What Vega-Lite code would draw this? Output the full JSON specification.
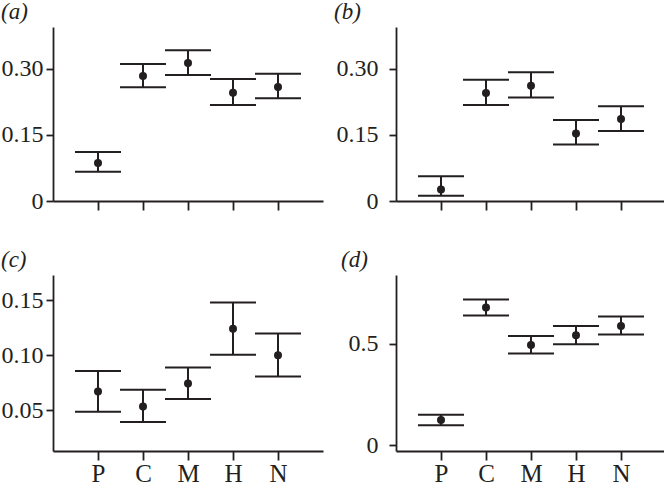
{
  "$schema": "https://vega.github.io/schema/vega-lite/v6.json",
  "padding": {"left": 0, "top": 1, "right": 0, "bottom": 0},
  "background": "white",
  "columns": 2,
  "align": "each",
  "spacing": {"row": 36, "column": 11},
  "datasets": {
    "a": [
      {"g": "P", "m": 0.086, "lo": 0.0665, "hi": 0.111},
      {"g": "C", "m": 0.284, "lo": 0.258, "hi": 0.311},
      {"g": "M", "m": 0.313, "lo": 0.286, "hi": 0.342},
      {"g": "H", "m": 0.246, "lo": 0.218, "hi": 0.277},
      {"g": "N", "m": 0.259, "lo": 0.233, "hi": 0.289}
    ],
    "b": [
      {"g": "P", "m": 0.026, "lo": 0.012, "hi": 0.056},
      {"g": "C", "m": 0.245, "lo": 0.218, "hi": 0.275},
      {"g": "M", "m": 0.2615, "lo": 0.235, "hi": 0.2925},
      {"g": "H", "m": 0.153, "lo": 0.128, "hi": 0.184},
      {"g": "N", "m": 0.186, "lo": 0.159, "hi": 0.215}
    ],
    "c": [
      {"g": "P", "m": 0.067, "lo": 0.0485, "hi": 0.0855},
      {"g": "C", "m": 0.0533, "lo": 0.0391, "hi": 0.0685},
      {"g": "M", "m": 0.0742, "lo": 0.060, "hi": 0.0888},
      {"g": "H", "m": 0.124, "lo": 0.1003, "hi": 0.148},
      {"g": "N", "m": 0.100, "lo": 0.0806, "hi": 0.1197}
    ],
    "d": [
      {"g": "P", "m": 0.124, "lo": 0.099, "hi": 0.150},
      {"g": "C", "m": 0.678, "lo": 0.639, "hi": 0.718},
      {"g": "M", "m": 0.493, "lo": 0.452, "hi": 0.538},
      {"g": "H", "m": 0.541, "lo": 0.497, "hi": 0.587},
      {"g": "N", "m": 0.587, "lo": 0.545, "hi": 0.634}
    ]
  },
  "concat": [
    {
      "data": {"name": "a"},
      "width": 270, "height": 174,
      "title": {"text": "(a)", "dx": 1},
      "encoding": {
        "x": {"field": "g", "type": "ordinal", "title": null,
              "scale": {"type": "point", "domain": ["P", "C", "M", "H", "N"], "padding": 1.25},
              "axis": {"labels": false}}
      },
      "layer": [
        {"mark": {"type": "rule", "strokeWidth": 2, "color": "#231f20"},
         "encoding": {
           "y": {"field": "lo", "type": "quantitative", "title": null,
                 "scale": {"domain": [0, 0.395], "nice": false, "zero": false},
                 "axis": {"values": [0, 0.15, 0.3], "labelPadding": 3, "labelExpr": "datum.value == 0 ? '0' : format(datum.value, '.2f')"}},
           "y2": {"field": "hi"}}},
        {"mark": {"type": "tick", "size": 46, "thickness": 2, "color": "#231f20", "opacity": 1},
         "encoding": {"y": {"field": "lo", "type": "quantitative", "title": null}}},
        {"mark": {"type": "tick", "size": 46, "thickness": 2, "color": "#231f20", "opacity": 1},
         "encoding": {"y": {"field": "hi", "type": "quantitative", "title": null}}},
        {"mark": {"type": "point", "filled": true, "size": 64, "opacity": 1, "color": "#231f20"},
         "encoding": {"y": {"field": "m", "type": "quantitative", "title": null}}}
      ]
    },
    {
      "data": {"name": "b"},
      "width": 270, "height": 174,
      "title": {"text": "(b)", "dx": -2},
      "encoding": {
        "x": {"field": "g", "type": "ordinal", "title": null,
              "scale": {"type": "point", "domain": ["P", "C", "M", "H", "N"], "padding": 1.25},
              "axis": {"labels": false}}
      },
      "layer": [
        {"mark": {"type": "rule", "strokeWidth": 2, "color": "#231f20"},
         "encoding": {
           "y": {"field": "lo", "type": "quantitative", "title": null,
                 "scale": {"domain": [0, 0.395], "nice": false, "zero": false},
                 "axis": {"values": [0, 0.15, 0.3], "labelPadding": 11, "labelExpr": "datum.value == 0 ? '0' : format(datum.value, '.2f')"}},
           "y2": {"field": "hi"}}},
        {"mark": {"type": "tick", "size": 46, "thickness": 2, "color": "#231f20", "opacity": 1},
         "encoding": {"y": {"field": "lo", "type": "quantitative", "title": null}}},
        {"mark": {"type": "tick", "size": 46, "thickness": 2, "color": "#231f20", "opacity": 1},
         "encoding": {"y": {"field": "hi", "type": "quantitative", "title": null}}},
        {"mark": {"type": "point", "filled": true, "size": 64, "opacity": 1, "color": "#231f20"},
         "encoding": {"y": {"field": "m", "type": "quantitative", "title": null}}}
      ]
    },
    {
      "data": {"name": "c"},
      "width": 270, "height": 176,
      "title": {"text": "(c)", "dx": 1},
      "encoding": {
        "x": {"field": "g", "type": "ordinal", "title": null,
              "scale": {"type": "point", "domain": ["P", "C", "M", "H", "N"], "padding": 1.25},
              "axis": {"labelAngle": 0}}
      },
      "layer": [
        {"mark": {"type": "rule", "strokeWidth": 2, "color": "#231f20"},
         "encoding": {
           "y": {"field": "lo", "type": "quantitative", "title": null,
                 "scale": {"domain": [0.0127, 0.173], "nice": false, "zero": false},
                 "axis": {"values": [0.05, 0.1, 0.15], "labelPadding": 3, "format": ".2f"}},
           "y2": {"field": "hi"}}},
        {"mark": {"type": "tick", "size": 46, "thickness": 2, "color": "#231f20", "opacity": 1},
         "encoding": {"y": {"field": "lo", "type": "quantitative", "title": null}}},
        {"mark": {"type": "tick", "size": 46, "thickness": 2, "color": "#231f20", "opacity": 1},
         "encoding": {"y": {"field": "hi", "type": "quantitative", "title": null}}},
        {"mark": {"type": "point", "filled": true, "size": 64, "opacity": 1, "color": "#231f20"},
         "encoding": {"y": {"field": "m", "type": "quantitative", "title": null}}}
      ]
    },
    {
      "data": {"name": "d"},
      "width": 270, "height": 176,
      "title": {"text": "(d)", "dx": -2},
      "encoding": {
        "x": {"field": "g", "type": "ordinal", "title": null,
              "scale": {"type": "point", "domain": ["P", "C", "M", "H", "N"], "padding": 1.25},
              "axis": {"labelAngle": 0}}
      },
      "layer": [
        {"mark": {"type": "rule", "strokeWidth": 2, "color": "#231f20"},
         "encoding": {
           "y": {"field": "lo", "type": "quantitative", "title": null,
                 "scale": {"domain": [-0.028, 0.838], "nice": false, "zero": false},
                 "axis": {"values": [0, 0.5], "labelPadding": 11, "labelExpr": "datum.value == 0 ? '0' : format(datum.value, '.1f')"}},
           "y2": {"field": "hi"}}},
        {"mark": {"type": "tick", "size": 46, "thickness": 2, "color": "#231f20", "opacity": 1},
         "encoding": {"y": {"field": "lo", "type": "quantitative", "title": null}}},
        {"mark": {"type": "tick", "size": 46, "thickness": 2, "color": "#231f20", "opacity": 1},
         "encoding": {"y": {"field": "hi", "type": "quantitative", "title": null}}},
        {"mark": {"type": "point", "filled": true, "size": 64, "opacity": 1, "color": "#231f20"},
         "encoding": {"y": {"field": "m", "type": "quantitative", "title": null}}}
      ]
    }
  ],
  "config": {
    "view": {"stroke": null},
    "axis": {
      "domainColor": "#231f20", "domainWidth": 1.8,
      "tickColor": "#231f20", "tickWidth": 1.8,
      "labelFont": "Liberation Serif", "labelFontSize": 24, "labelColor": "#231f20",
      "grid": false
    },
    "axisY": {"tickSize": 7, "minExtent": 53, "maxExtent": 53},
    "axisX": {"tickSize": 9, "labelPadding": 1, "labelFontSize": 25},
    "title": {"font": "Liberation Serif", "fontSize": 23, "fontStyle": "italic", "fontWeight": "normal",
              "anchor": "start", "frame": "bounds", "color": "#231f20", "offset": 3}
  }
}
